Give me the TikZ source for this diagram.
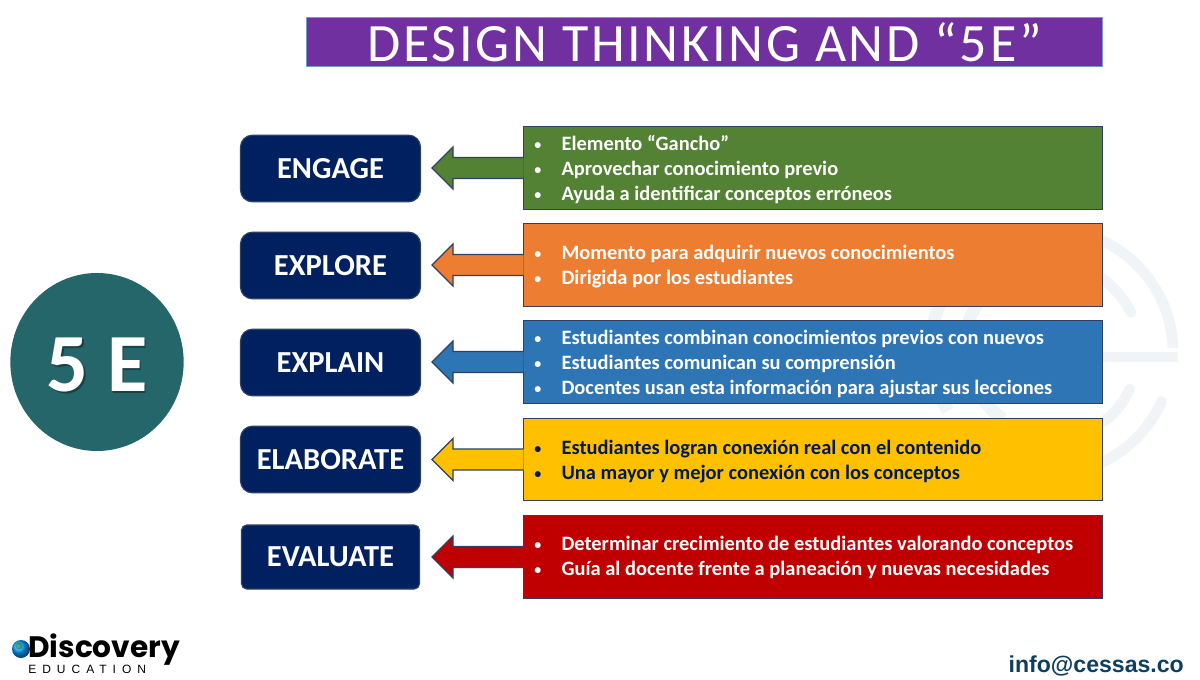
\documentclass[tikz,border=0pt]{standalone}
\usepackage{fontspec}
\setmainfont{Carlito}
\newfontfamily\logofont{Poppins}
\newfontfamily\mailfont{Liberation Sans}
\newfontfamily\titlefont[LetterSpace=5]{Carlito}
\newfontfamily\edufont[LetterSpace=50]{Liberation Sans}
\usetikzlibrary{calc,shapes.geometric}
\definecolor{navyb}{HTML}{002060}
\definecolor{edgeb}{HTML}{2F4060}
\definecolor{grn}{HTML}{548235}
\definecolor{org}{HTML}{ED7D31}
\definecolor{blu}{HTML}{2E75B6}
\definecolor{yel}{HTML}{FFC000}
\definecolor{rd}{HTML}{C00000}
\definecolor{purp}{HTML}{7030A0}
\definecolor{teal5}{HTML}{25666B}
\definecolor{wm}{HTML}{F1F4F7}
\definecolor{mail}{HTML}{0F3F5F}
\tikzset{
  x=0.75pt,y=-0.75pt,
  ebox/.style={draw=edgeb,line width=0.9pt,fill=navyb,rounded corners=9pt,minimum width=135pt,minimum height=50pt,inner sep=0pt,text=white,font=\fontsize{22.9}{26}\selectfont\bfseries},
  tbox/.style={draw=edgeb,line width=0.9pt,minimum width=434pt,minimum height=62pt,inner sep=0pt,anchor=west},
  btext/.style={font=\fontsize{15.33}{18.75}\selectfont\bfseries,align=left,anchor=west,inner sep=0pt},
  wmarc/.style={draw=wm,line width=8pt,line cap=round},
  wmleft/.style={draw=wm,line width=9.5pt},
}
\newcommand{\bul}{\makebox[20.5pt][l]{\fontsize{10.5}{10}\selectfont\raisebox{0.6pt}{\textbullet}}}
\newcommand{\arrowto}[2]{%
  \filldraw[draw=edgeb,line width=0.9pt,fill=#2]
    ($(#1.west)+(0.6,-10.5)$) -- ($(#1.west)+(-70,-10.5)$) -- ($(#1.west)+(-70,-21)$)
    -- ($(#1.west)+(-91,0)$) -- ($(#1.west)+(-70,21)$) -- ($(#1.west)+(-70,10.5)$) -- ($(#1.west)+(0.6,10.5)$);
}
\begin{document}
\begin{tikzpicture}
\useasboundingbox (0,0) rectangle (1200,679);
\fill[white] (0,0) rectangle (1200,679);
% watermark
\coordinate (wc) at (1050,352);
\draw[wmarc] ($(wc)+(66:122)$) arc[start angle=66,end angle=24,radius=122];
\draw[wmarc] ($(wc)+(52:88)$) arc[start angle=52,end angle=25,radius=88];
\draw[wmarc,line cap=butt] ($(wc)+(-2:123)$) arc[start angle=-2,end angle=-70,radius=123];
\draw[wmarc] ($(wc)+(-26:90)$) arc[start angle=-26,end angle=-60,radius=90];
\draw[wmarc,line cap=butt] ($(wc)+(128,5)$) -- ($(wc)+(30,5)$);
\draw[wmleft] ($(wc)+(172:118)$) arc[start angle=172,end angle=150,radius=118];
\draw[wmleft] ($(wc)+(172:82)$) arc[start angle=172,end angle=125,radius=82];
\draw[wmleft] ($(wc)+(195:120)$) arc[start angle=195,end angle=225,radius=120];
\draw[wmleft] ($(wc)+(195:87)$) arc[start angle=195,end angle=245,radius=87];
% title
\node[draw=blu!70,line width=0.6pt,fill=purp,minimum width=597pt,minimum height=37pt,inner sep=0pt,text=white,font=\fontsize{40.5}{42}\selectfont\titlefont] (title) at (704.5,42) {\raisebox{-0.7pt}{DESIGN THINKING AND “5E”}};
% circle
\node[ellipse,fill=teal5,minimum width=130pt,minimum height=133.5pt,inner sep=0pt] (five) at (97,362) {};
\node[text=black!35!teal5,font=\fontsize{62}{66}\selectfont\bfseries,inner sep=0pt] (fiveb) at (98.5,366.5) {5 E};
\node[text=white,font=\fontsize{62}{66}\selectfont\bfseries,inner sep=0pt] (fivet) at (97,365) {5 E};
% left boxes
\node[ebox] (engage) at (330.5,168.5) {\raisebox{-0.7pt}{ENGAGE}};
\node[ebox] (explore) at (330.5,265.5) {\raisebox{-0.7pt}{EXPLORE}};
\node[ebox] (explain) at (330.5,362.5) {\raisebox{-0.7pt}{EXPLAIN}};
\node[ebox] (elaborate) at (330.5,459.5) {\raisebox{-0.7pt}{ELABORATE}};
\node[ebox,minimum width=133.5pt,minimum height=48pt,rounded corners=4pt] (evaluate) at (330.5,557) {EVALUATE};
% right boxes
\node[tbox,fill=grn] (tg) at (523,168) {};
\node[tbox,fill=org] (to) at (523,265) {};
\node[tbox,fill=blu] (tb) at (523,362) {};
\node[tbox,fill=yel] (ty) at (523,459.5) {};
\node[tbox,fill=rd] (tr) at (523,557) {};
\arrowto{tg}{grn}
\arrowto{to}{org}
\arrowto{tb}{blu}
\arrowto{ty}{yel}
\arrowto{tr}{rd}
% texts
\node[btext,text=white] (xg) at (534,169.5) {\bul Elemento “Gancho”\\\bul Aprovechar conocimiento previo\\\bul Ayuda a identificar conceptos erróneos};
\node[btext,text=white] (xo) at (534,266.5) {\bul Momento para adquirir nuevos conocimientos\\\bul Dirigida por los estudiantes};
\node[btext,text=white] (xb) at (534,364) {\bul Estudiantes combinan conocimientos previos con nuevos\\\bul Estudiantes comunican su comprensión\\\bul Docentes usan esta información para ajustar sus lecciones};
\node[btext,text=navyb!80!black] (xy) at (534,461.5) {\bul Estudiantes logran conexión real con el contenido\\\bul Una mayor y mejor conexión con los conceptos};
\node[btext,text=white] (xr) at (534,557.5) {\bul Determinar crecimiento de estudiantes valorando conceptos\\\bul Guía al docente frente a planeación y nuevas necesidades};
% logo
\shade[ball color=cyan!60!blue] (21,649) circle[radius=9];
\fill[green!45!black,opacity=.5] (19,646) circle[radius=3.5];
\node[anchor=west,inner sep=0pt,font=\fontsize{22.2}{26}\selectfont\logofont\bfseries] (disc) at (28,650) {Discovery};
\node[anchor=west,inner sep=0pt,font=\fontsize{9}{10}\selectfont\edufont] (edu) at (28,669) {EDUCATION};
\node[anchor=east,inner sep=0pt,text=mail,font=\fontsize{17.3}{20}\selectfont\mailfont\bfseries] (info) at (1184,666) {info@cessas.co};
\end{tikzpicture}
\end{document}
